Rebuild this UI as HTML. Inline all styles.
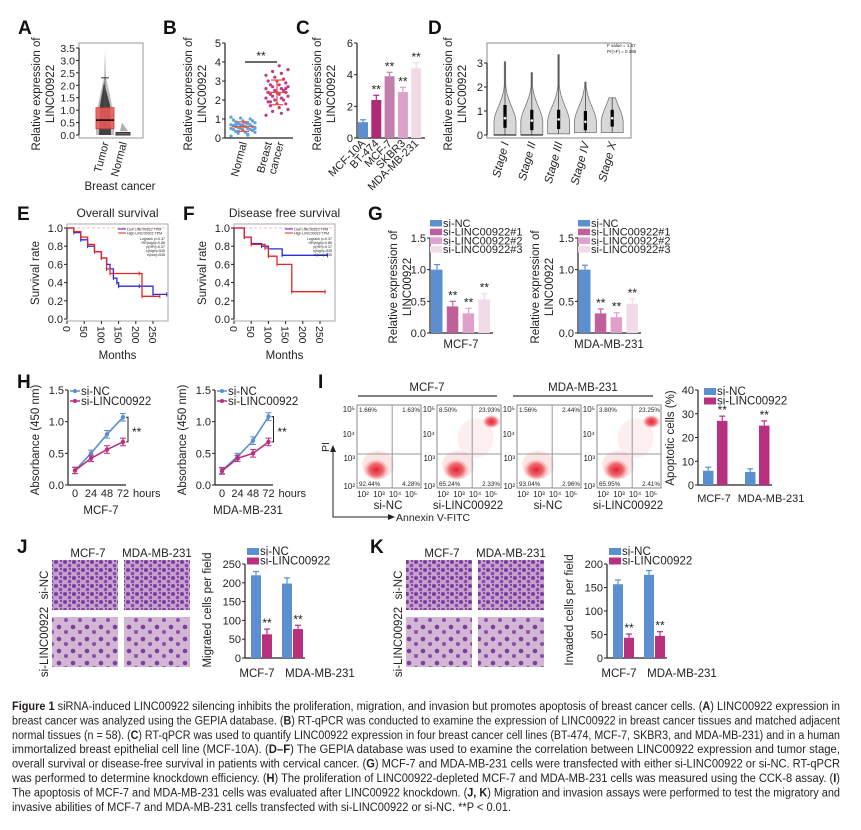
<!DOCTYPE html>
<html><head><meta charset="utf-8"><title>Figure 1 LINC00922</title>
<style>
html,body{margin:0;padding:0;background:#fff;}
svg{display:block;font-family:"Liberation Sans",Arial,sans-serif;}
.cap{font-size:11.5px;fill:#231f20;}
</style></head>
<body>
<svg id="fig" width="861" height="830" viewBox="0 0 861 830" xmlns="http://www.w3.org/2000/svg">
<defs>
<pattern id="denseCells" width="9" height="8" patternUnits="userSpaceOnUse">
<rect width="9" height="8" fill="#c6a1cc"/>
<circle cx="2" cy="2" r="2" fill="#7a3c9e"/><circle cx="6.5" cy="5.5" r="1.8" fill="#8a48ac"/><circle cx="7" cy="1" r="1" fill="#6d2f92"/>
</pattern>
<pattern id="sparseCells" width="14" height="12" patternUnits="userSpaceOnUse">
<rect width="14" height="12" fill="#d2b6d4"/>
<circle cx="3" cy="3" r="2.3" fill="#7b3fa0"/><circle cx="10" cy="8" r="2" fill="#8c4fae"/>
</pattern>
<radialGradient id="blob"><stop offset="0" stop-color="#e0202c"/><stop offset="0.55" stop-color="#ec4a52" stop-opacity="0.8"/><stop offset="1" stop-color="#f5a0a4" stop-opacity="0"/></radialGradient>
</defs>
<g font-weight="bold" font-size="19" fill="#111">
<text x="18" y="34">A</text>
<text x="163" y="34">B</text>
<text x="296" y="34">C</text>
<text x="428" y="34">D</text>
<text x="17" y="220">E</text>
<text x="183" y="220">F</text>
<text x="368" y="220">G</text>
<text x="17" y="388">H</text>
<text x="318" y="388">I</text>
<text x="17" y="553">J</text>
<text x="370" y="553">K</text>
</g>
<g id="caption" class="cap"></g>
</svg>
<script>
// ---------------- DATA ----------------
const boxATumor = [0.25, 0.6, 1.1, 2.3];
const boxANormal = [0.0, 0.05, 0.1, 0.5];
const ticksA = [0,0.5,1,1.5,2,2.5,3,3.5];

const normalB = [0.1,0.2,0.25,0.3,0.3,0.35,0.4,0.4,0.45,0.45,0.5,0.5,0.5,0.55,0.55,0.6,0.6,0.6,0.65,0.65,0.7,0.7,0.7,0.75,0.75,0.8,0.8,0.85,0.9,0.9,0.95,1.0,1.05,1.1,0.15,0.35,0.5,0.6,0.7,0.4];
const cancerB = [1.2,1.3,1.4,1.5,1.6,1.7,1.8,1.8,1.9,2.0,2.0,2.1,2.1,2.2,2.2,2.3,2.3,2.4,2.4,2.4,2.5,2.5,2.6,2.6,2.7,2.7,2.8,2.8,2.9,3.0,3.0,3.1,3.2,3.3,3.4,3.5,3.6,3.8,1.9,2.6];
const meanB = [0.6, 2.4];
const sdB = [0.25, 0.65];
const ticksB = [0,1,2,3,4,5];

const catsC = ["MCF-10A","BT-474","MCF-7","SKBR3","MDA-MB-231"];
const valsC = [1.0,2.4,3.9,2.9,4.4];
const errC = [0.15,0.3,0.25,0.3,0.35];
const ticksC = [0,2,4,6];

const stagesD = ["Stage I","Stage II","Stage III","Stage IV","Stage X"];
const maxD = [3.05,2.6,3.35,2.2,1.55];
const minD = [0,0,0.05,0.1,0.1];
const q1D = [0.3,0.2,0.25,0.2,0.35];
const medD = [0.7,0.6,0.65,0.55,0.7];
const q3D = [1.25,1.05,1.05,1.0,1.05];
const ticksD = [0,1,2,3];

const eLowMonths = [0,20,40,60,80,100,115,125,135,145,150,210,250,290];
const eLowSurv   = [1,0.95,0.87,0.8,0.74,0.67,0.6,0.55,0.45,0.4,0.36,0.36,0.27,0.27];
const eHighMonths= [0,20,40,60,80,100,115,125,210,218,270];
const eHighSurv  = [1,0.96,0.9,0.82,0.74,0.67,0.55,0.5,0.5,0.25,0.25];
const fLowMonths = [0,30,50,80,100,140,272];
const fLowSurv   = [1,0.9,0.83,0.8,0.77,0.7,0.7];
const fHighMonths= [0,30,50,90,100,125,168,265];
const fHighSurv  = [1,0.9,0.82,0.78,0.69,0.6,0.3,0.3];
const survTicks = [0,0.2,0.4,0.6,0.8,1.0];
const monthTicks = [0,50,100,150,200,250];

const groupsG = ["si-NC","si-LINC00922#1","si-LINC00922#2","si-LINC00922#3"];
const gMCF7 = [1.0,0.42,0.31,0.53];
const gMCF7Err = [0.08,0.08,0.08,0.09];
const gMDA = [1.0,0.31,0.25,0.46];
const gMDAErr = [0.07,0.07,0.07,0.08];
const ticksG = [0,0.5,1.0,1.5];

const hours = [0,24,48,72];
const hMCF7NC = [0.23,0.5,0.8,1.07];
const hMCF7Si = [0.23,0.42,0.56,0.68];
const hMDANC  = [0.23,0.45,0.7,1.08];
const hMDASi  = [0.22,0.42,0.5,0.68];
const hErr = [0.05,0.05,0.06,0.06];
const ticksH = [0,0.5,1.0,1.5];

const flowLabels = ["si-NC","si-LINC00922","si-NC","si-LINC00922"];
const flowUL = ["1.66%","8.50%","1.56%","3.80%"];
const flowUR = ["1.63%","23.93%","2.44%","23.25%"];
const flowLL = ["92.44%","65.24%","93.04%","65.95%"];
const flowLR = ["4.28%","2.33%","2.96%","2.41%"];

const cellLines = ["MCF-7","MDA-MB-231"];
const iNC = [6,5.5];
const iSi = [27,25];
const iNCErr = [1.5,1.3];
const iSiErr = [2,2];
const ticksI = [0,10,20,30,40];

const jNC = [220,198];
const jSi = [63,77];
const jNCErr = [10,15];
const jSiErr = [14,10];
const ticksJ = [0,50,100,150,200,250];

const kNC = [157,177];
const kSi = [43,47];
const kNCErr = [9,9];
const kSiErr = [8,9];
const ticksK = [0,50,100,150,200];

// ---------------- HELPERS ----------------
const NS = "http://www.w3.org/2000/svg";
const svg = document.getElementById("fig");
function mk(tag, attrs, txt, parent){
  const e = document.createElementNS(NS, tag);
  for (const k in attrs) e.setAttribute(k, attrs[k]);
  if (txt != null) e.textContent = txt;
  (parent || svg).appendChild(e);
  return e;
}
function lin(d0,d1,r0,r1){ return v => r0 + (v-d0)/(d1-d0)*(r1-r0); }
const BLUE="#5b8fd0", MAG="#b8307e";

function yAxis(x, ticks, sc, fmt, fs, name){
  const ax = mk("line",{x1:x,x2:x,y1:sc(ticks[0]),y2:sc(ticks[ticks.length-1]),stroke:"#222","stroke-width":1.2});
  
  
  ticks.forEach(t=>{
    mk("line",{x1:x-3,x2:x,y1:sc(t),y2:sc(t),stroke:"#222","stroke-width":1});
    const lb = mk("text",{x:x-4,y:sc(t)+4,"text-anchor":"end","font-size":fs,fill:"#222"}, fmt(t));
    
    
  });
}
function vtitle(x, cy, txt, fs, name){
  const t = mk("text",{x:0,y:0,transform:`translate(${x},${cy}) rotate(-90)`,"text-anchor":"middle","font-size":fs,fill:"#222"}, txt);
  
  
  return t;
}
function txt(x,y,s,fs,anchor,name,extra){
  const a = {x:x,y:y,"font-size":fs,fill:"#222","text-anchor":anchor||"start"};
  if (extra) for (const k in extra) a[k]=extra[k];
  const t = mk("text",a,s);
  
  
  return t;
}
function errbar(x, yTop, yVal, color, w){
  mk("line",{x1:x,x2:x,y1:yVal,y2:yTop,stroke:color,"stroke-width":1.2});
  mk("line",{x1:x-w,x2:x+w,y1:yTop,y2:yTop,stroke:color,"stroke-width":1.2});
}
const f1 = v=>v.toFixed(1), f0 = v=>String(v);

// ---------------- PANEL A ----------------
(function(){
  const y = lin(0,3.5,135,48);
  mk("rect",{x:79,y:43,width:64,height:95,fill:"none",stroke:"#999","stroke-width":1});
  yAxis(79, ticksA, y, f1, 10.5, "panel-a");
  mk("path",{d:`M105 ${y(3.4)} L104 ${y(2.3)} L100 ${y(1.6)} L96 ${y(0.8)} L96 ${y(0)} L114 ${y(0)} L114 ${y(0.8)} L110 ${y(1.6)} L106 ${y(2.3)} Z`,fill:"#888",opacity:0.55});
  mk("path",{d:`M104 ${y(2.1)} L100 ${y(1.2)} L99 ${y(0)} L111 ${y(0)} L110 ${y(1.2)} Z`,fill:"#222",opacity:0.8});
  const bt = mk("rect",{x:96,y:y(boxATumor[2]),width:18,height:y(boxATumor[0])-y(boxATumor[2]),fill:"#f05a5a",opacity:0.85,stroke:"#c33"});
  
  
  mk("line",{x1:96,x2:114,y1:y(boxATumor[1]),y2:y(boxATumor[1]),stroke:"#000","stroke-width":1.5});
  mk("line",{x1:105,x2:105,y1:y(boxATumor[2]),y2:y(boxATumor[3]),stroke:"#555","stroke-dasharray":"2,1"});
  mk("line",{x1:101,x2:109,y1:y(boxATumor[3]),y2:y(boxATumor[3]),stroke:"#333"});
  const bn = mk("rect",{x:116,y:y(boxANormal[2]),width:14,height:Math.max(2,y(boxANormal[0])-y(boxANormal[2])),fill:"#666",stroke:"#333"});
  
  
  mk("path",{d:`M122 ${y(boxANormal[3])} L120 ${y(0.15)} L128 ${y(0.15)} Z`,fill:"#777",opacity:0.6});
  txt(109,143,"Tumor",11,"end","tumor-label",{transform:"rotate(-75 109 143)"});
  txt(127,143,"Normal",11,"end","normal-label",{transform:"rotate(-75 127 143)"});
  txt(120,190,"Breast cancer",11.5,"middle","breast-cancer-label");
  vtitle(40,94,"Relative expression of",11.5,"panel-a-y-title-line1");
  vtitle(54,94,"LINC00922",11.5,"panel-a-y-title-line2");
})();

// ---------------- PANEL B ----------------
(function(){
  const y = lin(0,5,138,43);
  yAxis(225, ticksB, y, f0, 11, "panel-b");
  mk("line",{x1:225,x2:293,y1:138,y2:138,stroke:"#222","stroke-width":1.2});
  normalB.forEach((v,i)=>{
    const c = mk("circle",{cx:243+((i*7)%11-5)*2.4,cy:y(v),r:1.6,fill:"#5ca3dc"});
    
    
  });
  cancerB.forEach((v,i)=>{
    const c = mk("circle",{cx:277+((i*7)%11-5)*2.2,cy:y(v),r:1.6,fill:"#c2398c"});
    
    
  });
  [243,277].forEach((cx,i)=>{
    mk("line",{x1:cx-11,x2:cx+11,y1:y(meanB[i]),y2:y(meanB[i]),stroke:"#e8503a","stroke-width":1.3});
    mk("line",{x1:cx,x2:cx,y1:y(meanB[i]-sdB[i]),y2:y(meanB[i]+sdB[i]),stroke:"#e8503a","stroke-width":1.2});
    mk("line",{x1:cx-6,x2:cx+6,y1:y(meanB[i]-sdB[i]),y2:y(meanB[i]-sdB[i]),stroke:"#e8503a","stroke-width":1.2});
    mk("line",{x1:cx-6,x2:cx+6,y1:y(meanB[i]+sdB[i]),y2:y(meanB[i]+sdB[i]),stroke:"#e8503a","stroke-width":1.2});
  });
  mk("line",{x1:245,x2:277,y1:62,y2:62,stroke:"#111","stroke-width":1.3});
  txt(261,60,"**",12,"middle","significance-b");
  txt(247,143,"Normal",11,"end","normal-x-label",{transform:"rotate(-75 247 143)"});
  txt(272,143,"Breast",11,"end","breast-x-label",{transform:"rotate(-75 272 143)"});
  txt(284,143,"cancer",11,"end","cancer-x-label",{transform:"rotate(-75 284 143)"});
  vtitle(192,94,"Relative expression of",11.5,"panel-b-y-title-line1");
  vtitle(206,94,"LINC00922",11.5,"panel-b-y-title-line2");
})();

// ---------------- PANEL C ----------------
(function(){
  const y = lin(0,6,138,43);
  const colors = [BLUE,"#b02a7a","#c27fae","#dca2c9","#f1d9e6"];
  yAxis(357, ticksC, y, f0, 11, "panel-c");
  mk("line",{x1:357,x2:425,y1:138,y2:138,stroke:"#222","stroke-width":1.2});
  catsC.forEach((c,i)=>{
    const x = 358 + i*13.3;
    errbar(x+5, y(valsC[i]+errC[i]), y(valsC[i]), colors[i], 3);
    const b = mk("rect",{x:x,y:y(valsC[i]),width:10,height:138-y(valsC[i]),fill:colors[i]});
    
    
    if (i>0) txt(x+5,y(valsC[i]+errC[i])-2,"**",12,"middle","significance-c");
    txt(x+8,144,c,11,"end","cell-line-label",{transform:`rotate(-45 ${x+8} 144)`});
  });
  vtitle(321,94,"Relative expression of",11.5,"panel-c-y-title-line1");
  vtitle(335,94,"LINC00922",11.5,"panel-c-y-title-line2");
})();

// ---------------- PANEL D ----------------
(function(){
  const y = lin(0,3,135,63);
  mk("rect",{x:487,y:43,width:144,height:95,fill:"none",stroke:"#888","stroke-width":1});
  yAxis(487, ticksD, y, f0, 11, "panel-d");
  stagesD.forEach((s,i)=>{
    const cx = 505 + i*26.8, W = 11;
    let L = "", R = "";
    const steps = 30;
    for (let k=0;k<=steps;k++){
      const v = minD[i] + (maxD[i]-minD[i])*k/steps;
      let f = v<0.5 ? 1 : Math.exp(-Math.pow((v-0.5)/0.95,2));
      f = Math.max(f,0.06);
      L += (k?" L":"M")+(cx-W*f).toFixed(1)+" "+y(v).toFixed(1);
      R = " L"+(cx+W*f).toFixed(1)+" "+y(v).toFixed(1) + R;
    }
    const p = mk("path",{d:L+R+" Z",fill:"#d8d8d8",stroke:"#777","stroke-width":0.8});
    
    
    mk("line",{x1:cx,x2:cx,y1:y(minD[i]),y2:y(maxD[i]),stroke:"#444","stroke-width":0.8});
    mk("rect",{x:cx-1.6,y:y(q3D[i]),width:3.2,height:y(q1D[i])-y(q3D[i]),fill:"#000"});
    mk("circle",{cx:cx,cy:y(medD[i]),r:1.3,fill:"#fff"});
    if (minD[i]===0) mk("line",{x1:cx-11,x2:cx+11,y1:y(0),y2:y(0),stroke:"#000","stroke-width":1});
    txt(cx+4,143,s,11.5,"end","stage-label",{transform:`rotate(-75 ${cx+4} 143)`,"font-style":"italic"});
  });
  txt(607,47,"F value = 1.67",4.5,"start","f-value");
  txt(607,53,"Pr(>F) = 0.195",4.5,"start","p-value");
  vtitle(452,94,"Relative expression of",11.5,"panel-d-y-title-line1");
  vtitle(466,94,"LINC00922",11.5,"panel-d-y-title-line2");
})();

// ---------------- PANELS E, F ----------------
function survPanel(x0, xRight, x250, monthsLow, survLow, monthsHigh, survHigh, title, name){
  const y = lin(0,1,319,228);
  const x = lin(0,250,x0,x250);
  mk("rect",{x:x0,y:224,width:xRight-x0,height:97,fill:"none",stroke:"#aaa","stroke-width":1});
  yAxis(x0, survTicks, y, f1, 11, name);
  monthTicks.forEach(m=>{
    mk("line",{x1:x(m),x2:x(m),y1:321,y2:324,stroke:"#222"});
    txt(x(m)-4,326,String(m),10.5,"start","month-tick-label",{transform:`rotate(90 ${x(m)-4} 326)`});
  });
  mk("path",{d:`M${x0} 228 L${xRight} 228`,stroke:"#f6c0c0","stroke-dasharray":"3,2",fill:"none"});
  function step(ms, ss, color, nm){
    let d = `M${x(ms[0])} ${y(ss[0])}`;
    for (let i=1;i<ms.length;i++) d += ` H${x(ms[i]).toFixed(1)} V${y(ss[i]).toFixed(1)}`;
    const p = mk("path",{d:d,fill:"none",stroke:color,"stroke-width":1.3});
    
    
    ms.forEach((m,i)=>{ if(i>0) mk("line",{x1:x(m),x2:x(m),y1:y(ss[i])-2,y2:y(ss[i])+2,stroke:color}); });
  }
  step(monthsLow, survLow, "#2b2bd8", name+"-low-curve");
  step(monthsHigh, survHigh, "#e42626", name+"-high-curve");
  const lx = xRight-50;
  mk("line",{x1:lx,x2:lx+8,y1:229,y2:229,stroke:"#2b2bd8"});
  mk("line",{x1:lx,x2:lx+8,y1:233,y2:233,stroke:"#e42626"});
  txt(lx+9,230.5,"Low LINC00922 TPM",3.6,"start","legend-low");
  txt(lx+9,234.5,"High LINC00922 TPM",3.6,"start","legend-high");
  txt(xRight-3,240,"Logrank p=0.37",3.6,"end","stat-logrank");
  txt(xRight-3,244,"HR(high)=0.86",3.6,"end","stat-hr");
  txt(xRight-3,248,"p(HR)=0.37",3.6,"end","stat-phr");
  txt(xRight-3,252,"n(high)=535",3.6,"end","stat-nhigh");
  txt(xRight-3,256,"n(low)=535",3.6,"end","stat-nlow");
  txt((x0+xRight)/2,217,title,12,"middle",name+"-title");
  txt((x0+xRight)/2,359,"Months",11.5,"middle",name+"-x-title");
  vtitle(x0-28,273,"Survival rate",11.5,name+"-y-title");
}
survPanel(67,168,153,eLowMonths,eLowSurv,eHighMonths,eHighSurv,"Overall survival","panel-e");
survPanel(234,335,320,fLowMonths,fLowSurv,fHighMonths,fHighSurv,"Disease free survival","panel-f");

// ---------------- PANEL G ----------------
const gColors = [BLUE,"#c0609a","#e0a0cc","#f2dbe8"];
function gPanel(ax, vals, errs, label, name, tx){
  const y = lin(0,1.5,333,238);
  yAxis(ax, ticksG, y, f1, 11, name);
  mk("line",{x1:ax,x2:ax+63,y1:333,y2:333,stroke:"#222","stroke-width":1.2});
  vals.forEach((v,i)=>{
    const x = ax + 1 + i*15.8;
    errbar(x+6, y(v+errs[i]), y(v), gColors[i], 3);
    const b = mk("rect",{x:x,y:y(v),width:11.5,height:333-y(v),fill:gColors[i]});
    
    
    if (i>0) txt(x+6,y(v+errs[i])-2,"**",12,"middle","significance-g");
  });
  groupsG.forEach((g,i)=>{
    const sw = mk("rect",{x:ax,y:220+i*8.7,width:12,height:6.5,fill:gColors[i]});
    
    
    txt(ax+13,227+i*8.7,g,11,"start","legend-entry");
  });
  txt(ax+31,348,label,11.5,"middle",name+"-x-label");
  vtitle(tx,287,"Relative expression of",11.5,name+"-y-title-line1");
  vtitle(tx+14,287,"LINC00922",11.5,name+"-y-title-line2");
}
gPanel(430, gMCF7, gMCF7Err, "MCF-7", "panel-g-mcf7", 397);
gPanel(578, gMDA, gMDAErr, "MDA-MB-231", "panel-g-mda", 539);

// ---------------- PANEL H ----------------
function hPanel(ax, px0, step, nc, si, label, name){
  const y = lin(0,1.5,485,390);
  yAxis(ax, ticksH, y, f1, 11, name);
  mk("line",{x1:ax,x2:ax+58,y1:485,y2:485,stroke:"#222","stroke-width":1.2});
  const x = i => px0 + i*step;
  hours.forEach((h,i)=>{
    txt(x(i),497,String(h),11,"middle","hour-tick-label");
  });
  txt(x(3)+10,497,"hours",11,"start","hours-label");
  [[nc,BLUE,"si-nc-line"],[si,MAG,"si-linc-line"]].forEach(([vals,col,nm])=>{
    const pts = vals.map((v,i)=>x(i)+","+y(v)).join(" ");
    const pl = mk("polyline",{points:pts,fill:"none",stroke:col,"stroke-width":1.6});
    
    
    vals.forEach((v,i)=>{
      mk("line",{x1:x(i),x2:x(i),y1:y(v-hErr[i]),y2:y(v+hErr[i]),stroke:col,"stroke-width":1.2});
      mk("line",{x1:x(i)-3,x2:x(i)+3,y1:y(v-hErr[i]),y2:y(v-hErr[i]),stroke:col});
      mk("line",{x1:x(i)-3,x2:x(i)+3,y1:y(v+hErr[i]),y2:y(v+hErr[i]),stroke:col});
      const m = mk("circle",{cx:x(i),cy:y(v),r:2.2,fill:col});
      
      
    });
  });
  const bx = x(3)+5;
  mk("path",{d:`M${bx-2} ${y(nc[3])} H${bx} V${y(si[3])} H${bx-2}`,fill:"none",stroke:"#222"});
  txt(bx+4,436,"**",12,"start","significance-h");
  mk("line",{x1:ax+2,x2:ax+12,y1:391,y2:391,stroke:BLUE,"stroke-width":1.5});
  mk("circle",{cx:ax+7,cy:391,r:2,fill:BLUE});
  mk("line",{x1:ax+2,x2:ax+12,y1:401,y2:401,stroke:MAG,"stroke-width":1.5});
  mk("circle",{cx:ax+7,cy:401,r:2,fill:MAG});
  txt(ax+13,395,"si-NC",11.5,"start","legend-si-nc");
  txt(ax+13,405,"si-LINC00922",11.5,"start","legend-si-linc00922");
  txt(ax+33,514,label,11.5,"middle",name+"-x-label");
  vtitle(ax-29,440,"Absorbance (450 nm)",11.5,name+"-y-title");
}
hPanel(68, 75, 16, hMCF7NC, hMCF7Si, "MCF-7", "panel-h-mcf7");
hPanel(215, 222, 15.5, hMDANC, hMDASi, "MDA-MB-231", "panel-h-mda");

// ---------------- PANEL I (flow) ----------------
(function(){
  const boxes = [357,437,517,597];
  txt(427,391,"MCF-7",11.5,"middle","flow-header-mcf7");
  mk("line",{x1:358,x2:497,y1:396,y2:396,stroke:"#333","stroke-width":1.3});
  txt(583,391,"MDA-MB-231",11.5,"middle","flow-header-mda");
  mk("line",{x1:513,x2:653,y1:396,y2:396,stroke:"#333","stroke-width":1.3});
  boxes.forEach((bx,i)=>{
    const w = 64, top=405, h=83;
    const qx = bx + w*0.55, qy = 454;
    const r = mk("rect",{x:bx,y:top,width:w,height:h,fill:"#fff",stroke:"#888"});
    
    
    mk("ellipse",{cx:bx+w*0.33,cy:top+h*0.72,rx:16,ry:14,fill:"#f4b4b7",opacity:0.35});
    mk("ellipse",{cx:bx+w*0.3,cy:top+h*0.78,rx:13,ry:11,fill:"url(#blob)"});
    if (i%2===1){
      mk("ellipse",{cx:bx+w*0.6,cy:top+h*0.4,rx:18,ry:20,fill:"#f7c9cb",opacity:0.3});
      mk("ellipse",{cx:bx+w*0.85,cy:top+h*0.2,rx:9,ry:7,fill:"url(#blob)"});
    }
    mk("line",{x1:qx,x2:qx,y1:top,y2:top+h,stroke:"#999"});
    mk("line",{x1:bx,x2:bx+w,y1:qy,y2:qy,stroke:"#999"});
    txt(bx+2,top+7,flowUL[i],6.3,"start","quadrant-ul");
    txt(bx+w-1,top+7,flowUR[i],6.3,"end","quadrant-ur");
    txt(bx+2,top+h-2,flowLL[i],6.3,"start","quadrant-ll");
    txt(bx+w-1,top+h-2,flowLR[i],6.3,"end","quadrant-lr");
    ["10⁵","10⁴","10³","10²"].forEach((t,k)=>txt(bx-2,[412,437,461,489][k],t,8,"end","flow-y-tick"));
    ["10²","10³","10⁴","10⁵"].forEach((t,k)=>txt(bx+6+k*16,497,t,8,"middle","flow-x-tick"));
    txt(bx+w/2-1,509,flowLabels[i],11.5,"middle","flow-sample-label");
  });
  mk("path",{d:"M333 450 V517 H390",fill:"none",stroke:"#222","stroke-width":1});
  mk("path",{d:"M330 452 L333 445 L336 452 Z",fill:"#222"});
  mk("path",{d:"M388 514 L395 517 L388 520 Z",fill:"#222"});
  txt(396,521,"Annexin V-FITC",10.5,"start","x-axis-title-annexin");
  vtitle(329,447,"PI",10.5,"y-axis-title-pi");
})();

// ---------------- grouped bars I, J, K ----------------
function groupBars(ax, y, ticks, nc, si, ncErr, siErr, starts, bw, gap, name, axisW){
  yAxis(ax, ticks, y, f0, 11, name);
  const base = y(0);
  mk("line",{x1:ax,x2:ax+axisW,y1:base,y2:base,stroke:"#222","stroke-width":1.2});
  cellLines.forEach((c,i)=>{
    const x1 = starts[i], x2 = starts[i]+gap;
    errbar(x1+bw/2, y(nc[i]+ncErr[i]), y(nc[i]), BLUE, 3);
    errbar(x2+bw/2, y(si[i]+siErr[i]), y(si[i]), MAG, 3);
    const b1 = mk("rect",{x:x1,y:y(nc[i]),width:bw,height:base-y(nc[i]),fill:BLUE});
    
    
    const b2 = mk("rect",{x:x2,y:y(si[i]),width:bw,height:base-y(si[i]),fill:MAG});
    
    
    txt(x2+bw/2,y(si[i]+siErr[i])-2,"**",12,"middle","significance-"+name);
  });
}
function legend2(x, y0, name){
  const s1 = mk("rect",{x:x,y:y0,width:12,height:7,fill:BLUE});
  
  
  const s2 = mk("rect",{x:x,y:y0+9.5,width:12,height:7,fill:MAG});
  
  
  txt(x+13,y0+7,"si-NC",11.5,"start","legend-si-nc");
  txt(x+13,y0+16.5,"si-LINC00922",11.5,"start","legend-si-linc00922");
}
(function(){
  const y = lin(0,40,485,390);
  groupBars(698, y, ticksI, iNC, iSi, iNCErr, iSiErr, [703,745], 10.5, 14, "panel-i", 74);
  legend2(704, 388, "panel-i");
  txt(714,502,"MCF-7",11,"middle","panel-i-x-mcf7");
  txt(771,502,"MDA-MB-231",11,"middle","panel-i-x-mda");
  vtitle(674,438,"Apoptotic cells (%)",11.5,"panel-i-y-title");
})();
function micro(x0, name){
  txt(x0+36,557,"MCF-7",11.5,"middle",name+"-col-mcf7");
  txt(x0+105,557,"MDA-MB-231",11.5,"middle",name+"-col-mda");
  [[0,"denseCells"],[1,"sparseCells"]].forEach(([r,pat])=>{
    [0,1].forEach(c=>{
      const im = mk("rect",{x:x0+c*72,y:560+r*57,width:66,height:50,fill:`url(#${pat})`});
      
      
    });
  });
  vtitle(x0-4,585,"si-NC",11.5,name+"-row-si-nc");
  vtitle(x0-4,642,"si-LINC00922",11.5,name+"-row-si-linc");
}
micro(52,"panel-j");
micro(406,"panel-k");
(function(){
  const y = lin(0,250,658,564);
  groupBars(245, y, ticksJ, jNC, jSi, jNCErr, jSiErr, [251,282], 10, 11, "panel-j", 60);
  legend2(247, 548, "panel-j");
  txt(257,677,"MCF-7",11.5,"middle","panel-j-x-mcf7");
  txt(320,677,"MDA-MB-231",11.5,"middle","panel-j-x-mda");
  vtitle(211,610,"Migrated cells per field",11.5,"panel-j-y-title");
})();
(function(){
  const y = lin(0,200,658,564);
  groupBars(607, y, ticksK, kNC, kSi, kNCErr, kSiErr, [613,644], 10, 11, "panel-k", 60);
  legend2(609, 548, "panel-k");
  txt(619,677,"MCF-7",11.5,"middle","panel-k-x-mcf7");
  txt(682,677,"MDA-MB-231",11.5,"middle","panel-k-x-mda");
  vtitle(573,610,"Invaded cells per field",11.5,"panel-k-y-title");
})();

// ---------------- CAPTION ----------------
(function(){
  const cap = document.getElementById("caption");
  const lines = [
    [["b","Figure 1"],["n"," siRNA-induced LINC00922 silencing inhibits the proliferation, migration, and invasion but promotes apoptosis of breast cancer cells. ("],["b","A"],["n",") LINC00922 expression in"]],
    [["n","breast cancer was analyzed using the GEPIA database. ("],["b","B"],["n",") RT-qPCR was conducted to examine the expression of LINC00922 in breast cancer tissues and matched adjacent"]],
    [["n","normal tissues (n = 58). ("],["b","C"],["n",") RT-qPCR was used to quantify LINC00922 expression in four breast cancer cell lines (BT-474, MCF-7, SKBR3, and MDA-MB-231) and in a human"]],
    [["n","immortalized breast epithelial cell line (MCF-10A). ("],["b","D–F"],["n",") The GEPIA database was used to examine the correlation between LINC00922 expression and tumor stage,"]],
    [["n","overall survival or disease-free survival in patients with cervical cancer. ("],["b","G"],["n",") MCF-7 and MDA-MB-231 cells were transfected with either si-LINC00922 or si-NC. RT-qPCR"]],
    [["n","was performed to determine knockdown efficiency. ("],["b","H"],["n",") The proliferation of LINC00922-depleted MCF-7 and MDA-MB-231 cells was measured using the CCK-8 assay. ("],["b","I"],["n",")"]],
    [["n","The apoptosis of MCF-7 and MDA-MB-231 cells was evaluated after LINC00922 knockdown. ("],["b","J, K"],["n",") Migration and invasion assays were performed to test the migratory and"]],
    [["n","invasive abilities of MCF-7 and MDA-MB-231 cells transfected with si-LINC00922 or si-NC. **P < 0.01."]]
  ];
  lines.forEach((ln,i)=>{
    const t = document.createElementNS(NS,"text");
    t.setAttribute("x",12);
    t.setAttribute("y",710+i*14.4);
    t.setAttribute("textLength", i===7 ? 499 : 828);
    t.setAttribute("lengthAdjust","spacingAndGlyphs");
    
    
    ln.forEach(([k,s])=>{
      const sp = document.createElementNS(NS,"tspan");
      if (k==="b") sp.setAttribute("font-weight","bold");
      sp.textContent = s;
      t.appendChild(sp);
    });
    cap.appendChild(t);
  });
})();
</script>
</body></html>
